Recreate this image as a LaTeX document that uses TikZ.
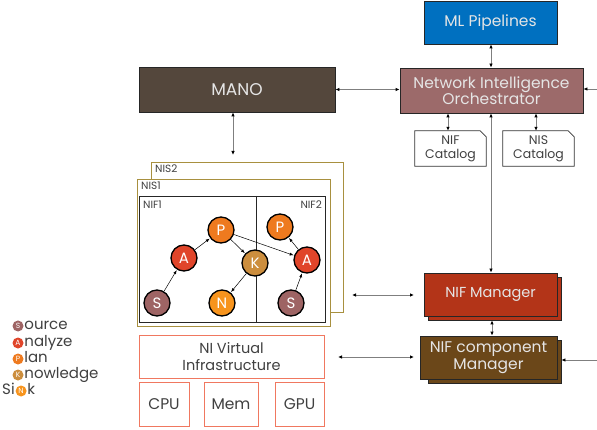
\documentclass[tikz,border=0pt]{standalone}
\usepackage{fontspec}
\setmainfont{Poppins}
\usetikzlibrary{arrows.meta,calc}
\definecolor{cML}{HTML}{0070C0}
\definecolor{cNIO}{HTML}{9C6A6A}
\definecolor{cMANO}{HTML}{54473C}
\definecolor{cNIFM}{HTML}{B33418}
\definecolor{cNIFC}{HTML}{6B4719}
\definecolor{cNIS}{HTML}{A8903F}
\definecolor{cVI}{HTML}{F07860}
\definecolor{cS}{HTML}{9E6464}
\definecolor{cA}{HTML}{E0452A}
\definecolor{cP}{HTML}{EE7A1F}
\definecolor{cK}{HTML}{CC8E3E}
\definecolor{cN}{HTML}{F7941D}
\definecolor{cTxt}{HTML}{404040}
\definecolor{cLine}{HTML}{7F7F7F}
\begin{document}
\begin{tikzpicture}[x=1pt,y=-1pt,
  box/.style={draw=black!85, line width=0.8pt, inner sep=0pt, align=center,
    text=white!90!black, font=\fontsize{15.5}{17}\selectfont},
  vbox/.style={draw=cVI, line width=0.9pt, inner sep=0pt, align=center,
    text=cTxt, font=\fontsize{14.5}{17}\selectfont},
  catbox/.style={inner sep=0pt, align=center, minimum width=71pt, minimum height=35pt,
    text=cTxt, font=\fontsize{12.5}{14}\selectfont},
  nisbox/.style={draw=cNIS, line width=0.9pt, fill=white},
  lbl/.style={inner sep=0pt, text=cTxt, font=\fontsize{10.5}{11}\selectfont},
  circ/.style={circle, draw=black, line width=1.3pt, minimum size=26pt, inner sep=0pt,
    text=white, font=\fontsize{15}{15}\selectfont},
  lcirc/.style={circle, minimum size=11pt, inner sep=0pt, text=white,
    font=\fontsize{7.5}{7.5}\selectfont},
  ltxt/.style={inner sep=0pt, text=cTxt, text height=10pt, text depth=3pt,
    font=\fontsize{15}{15}\selectfont},
  dar/.style={draw=cLine, line width=0.8pt, {Latex[length=4pt,width=3.5pt,black]}-{Latex[length=4pt,width=3.5pt,black]}},
  sar/.style={draw=cLine, line width=0.8pt, -{Latex[length=4pt,width=3.5pt,black]}},
  car/.style={draw=black, line width=0.5pt, -{Latex[length=4pt,width=3pt]}, shorten >=0.5pt}
]
\useasboundingbox (0,0) rectangle (597,430);

% top-right boxes
\node[box, fill=cML, minimum width=133pt, minimum height=43pt] (ML) at (490.5,22.5) {ML Pipelines};
\node[box, fill=cNIO, minimum width=183pt, minimum height=45pt, font=\fontsize{15.5}{16.5}\selectfont] (NIO) at (491.5,90.5) {Network Intelligence\\Orchestrator};
\node[box, fill=cMANO, minimum width=196pt, minimum height=45pt, font=\fontsize{17}{18}\selectfont] (MANO) at (237,89.5) {MANO};

% catalogs
\node[catbox] (NIFC) at (450.5,148.5) {NIF\\Catalog};
\node[catbox] (NISC) at (538.5,148.5) {NIS\\Catalog};
\foreach \c in {NIFC,NISC}{
  \draw[line width=0.7pt, draw=black!80] (\c.north west) -- ($(\c.north east)+(-6,0)$) -- ($(\c.north east)+(0,6)$) -- (\c.south east) -- (\c.south west) -- cycle;
}

% NIF Manager stacked
\node[box, fill=cNIFM, minimum width=133pt, minimum height=43pt] (NIFMb) at (494.5,298.5) {};
\node[box, fill=cNIFM, minimum width=133pt, minimum height=43pt, font=\fontsize{14.5}{16}\selectfont] (NIFM) at (490.5,294.5) {NIF Manager};
% NIF component Manager stacked
\node[box, fill=cNIFC, minimum width=133pt, minimum height=43pt] (NCMb) at (494.5,361.5) {};
\node[box, fill=cNIFC, minimum width=137pt, minimum height=43pt, font=\fontsize{15.5}{16.5}\selectfont] (NCM) at (488.5,357.5) {NIF component\\Manager};

% NIS boxes
\draw[nisbox] (151,162) rectangle (343,312);
\draw[nisbox] (137,179) rectangle (330,326);
\draw[line width=0.9pt, draw=black!85] (139,196) rectangle (325,322);
\draw[line width=0.9pt, draw=black!85] (256,196) -- (256,322);
\node[lbl, anchor=west] (nis2) at (155,169) {NIS2};
\node[lbl, anchor=west] (nis1) at (141,186) {NIS1};
\node[lbl, anchor=west] (nif1) at (143,205) {NIF1};
\node[lbl, anchor=east] (nif2) at (322,205) {NIF2};

% circles
\node[circ, fill=cP] (P1) at (221,230) {P};
\node[circ, fill=cA] (A1) at (184,258) {A};
\node[circ, fill=cK] (K)  at (255,263) {K};
\node[circ, fill=cS] (S1) at (157,303) {S};
\node[circ, fill=cN] (N)  at (222,303) {N};
\node[circ, fill=cP] (P2) at (280,227) {P};
\node[circ, fill=cA] (A2) at (307,260) {A};
\node[circ, fill=cS] (S2) at (291,303) {S};
\draw[car] (S1) -- (A1);
\draw[car] (A1) -- (P1);
\draw[car] (P1) -- (K);
\draw[car] (K) -- (N);
\draw[car] (P1) -- (A2);
\draw[car] (S2) -- (A2);
\draw[car] (A2) -- (P2);

% NI virtual infrastructure
\node[vbox, minimum width=185pt, minimum height=43pt] (NIVI) at (231.5,356.5) {NI Virtual\\Infrastructure};
\node[vbox, minimum width=50pt, minimum height=44pt, font=\fontsize{15.5}{16}\selectfont] (CPU) at (164,404) {CPU};
\node[vbox, minimum width=54pt, minimum height=44pt, font=\fontsize{15.5}{16}\selectfont] (MEM) at (231,404) {Mem};
\node[vbox, minimum width=49pt, minimum height=44pt, font=\fontsize{15.5}{16}\selectfont] (GPU) at (299.5,404) {GPU};

% connectors
\draw[dar] (ML.south -| 491,0) -- (NIO.north -| 491,0);
\draw[dar] (MANO.east) -- (NIO.west |- MANO.east);
\coordinate (rin1) at (597,89);
\draw[sar] (rin1) -- (NIO.east |- rin1);
\path (NIFC.north) ++(-2.5,0) coordinate (cat1);
\draw[dar] (NIO.south -| cat1) -- (cat1);
\path (NISC.north) ++(-2.5,0) coordinate (cat2);
\draw[dar] (NIO.south -| cat2) -- (cat2);
\draw[dar] (NIO.south -| 491,0) -- (NIFM.north -| 491,0);
\draw[dar] (NIFMb.south -| 492,0) -- (NCM.north -| 492,0);
\coordinate (m1) at (233,155);
\draw[dar] (MANO.south -| m1) -- (m1);
\coordinate (l1a) at (352,295);
\coordinate (l1b) at (414,295);
\draw[dar] (l1a) -- (l1b);
\coordinate (l2a) at (338,357);
\coordinate (l2b) at (414,357);
\draw[dar] (l2a) -- (l2b);
\coordinate (rin2) at (597,360);
\draw[sar] (rin2) -- (NCMb.east |- rin2);

% legend
\node[lcirc, fill=cS] (lS) at (18,326) {S};
\node[ltxt, anchor=west] at ($(lS.east)+(0.5,0)$) {ource};
\node[lcirc, fill=cA] (lA) at (18,343) {A};
\node[ltxt, anchor=west] at ($(lA.east)+(0.5,0)$) {nalyze};
\node[lcirc, fill=cP] (lP) at (18,359) {P};
\node[ltxt, anchor=west] at ($(lP.east)+(0.5,0)$) {lan};
\node[lcirc, fill=cK] (lK) at (18,375) {K};
\node[ltxt, anchor=west] at ($(lK.east)+(0.5,0)$) {nowledge};
\node[ltxt, anchor=west] (si) at (2,391) {Si};
\node[lcirc, fill=cN, anchor=west] (lN) at ($(si.east)+(0.5,0)$) {N};
\node[ltxt, anchor=west] at ($(lN.east)+(0.5,0)$) {k};
\end{tikzpicture}
\end{document}
